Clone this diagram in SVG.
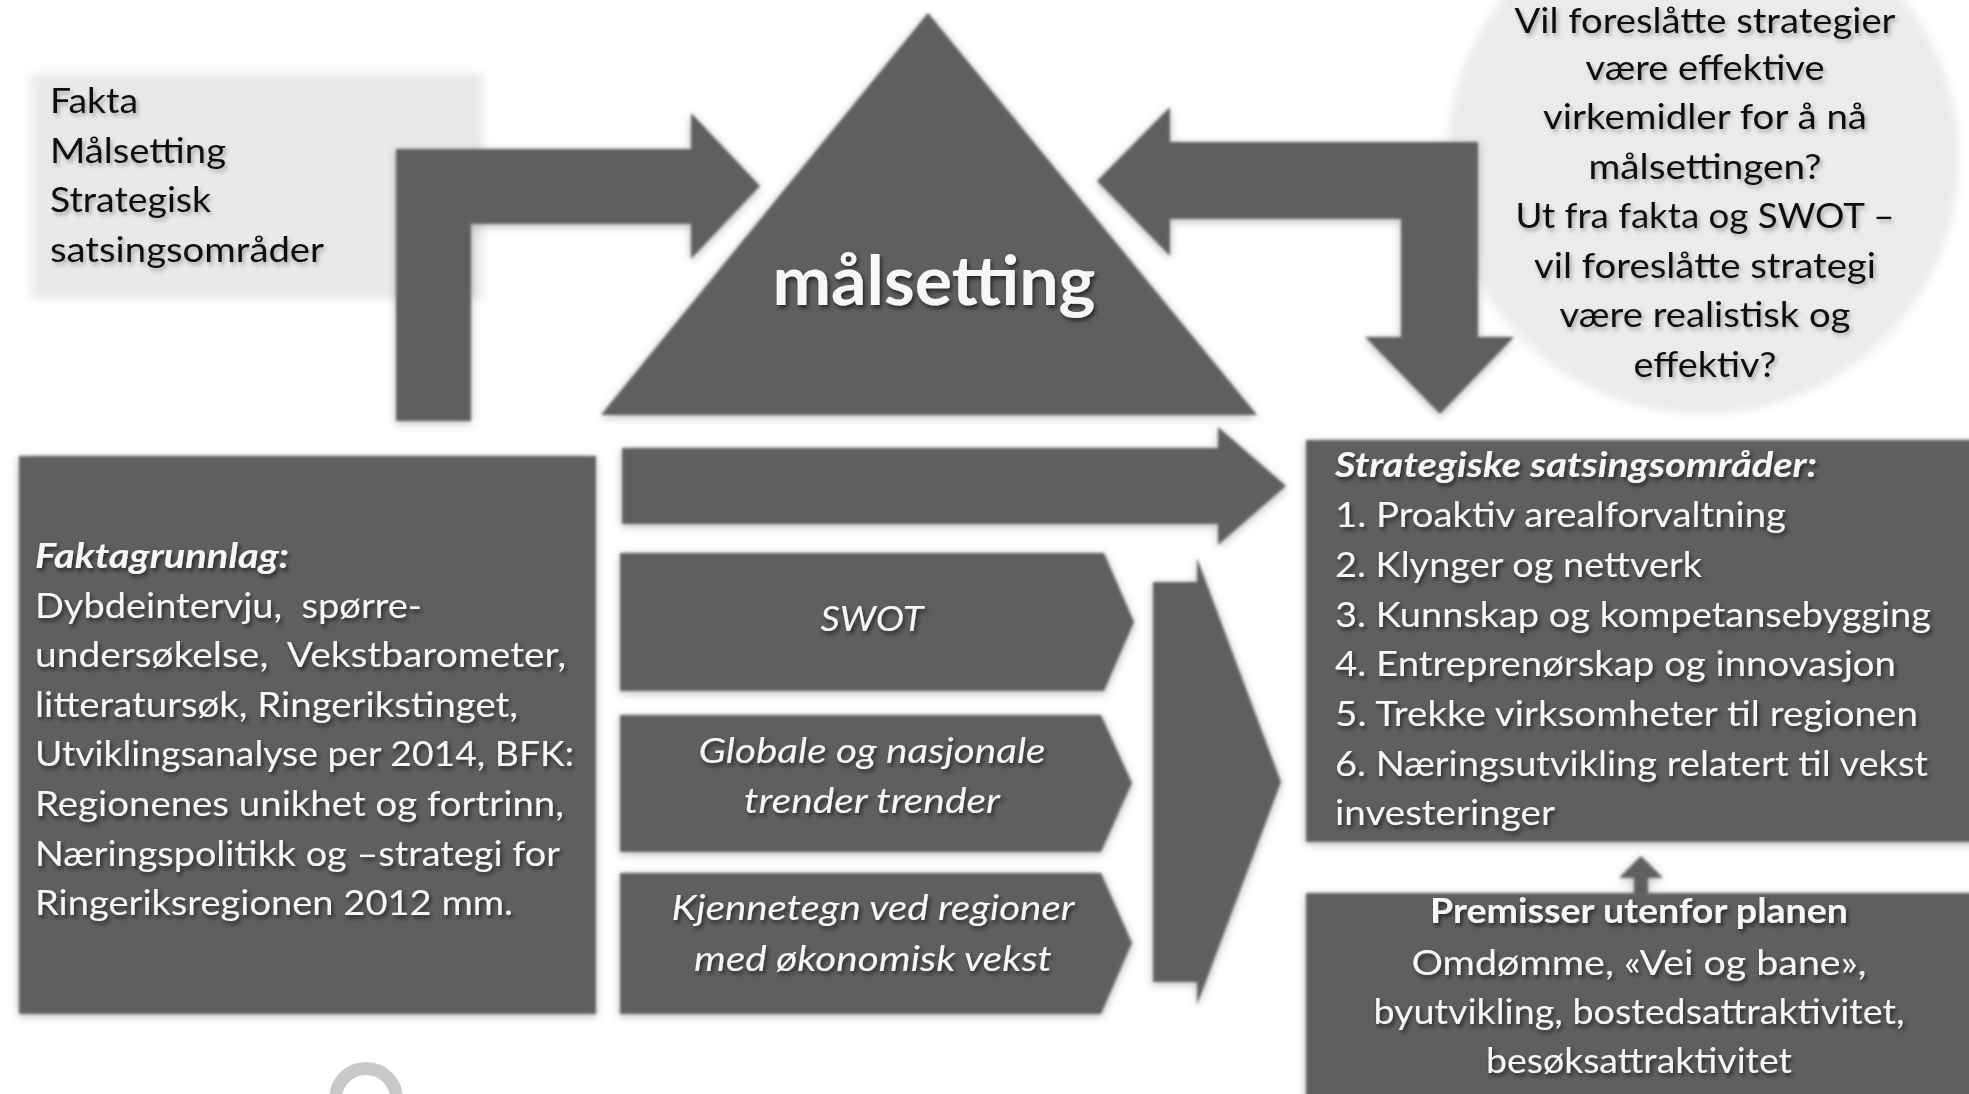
<svg xmlns="http://www.w3.org/2000/svg" width="1969" height="1094" viewBox="0 0 1969 1094">
<style>
  .dk { fill: #5e5e5e; }
  .t { font-family: Lato, "Liberation Sans", sans-serif; font-size: 34px; }
  .big { font-size: 68px; }
  .lt { fill: #f7f7f7; }
  .bk { fill: #111111; }
  .it { font-style: italic; }
  .bd { font-weight: bold; }
  .mid { text-anchor: middle; }
  .pre { white-space: pre; }
</style>
<defs>
  <filter id="shape" x="-10%" y="-10%" width="120%" height="120%">
    <feGaussianBlur in="SourceAlpha" stdDeviation="5" result="b"/>
    <feOffset in="b" dx="0" dy="2" result="o"/>
    <feFlood flood-color="#000" flood-opacity="0.28"/>
    <feComposite in2="o" operator="in" result="sh"/>
    <feGaussianBlur in="SourceGraphic" stdDeviation="1.8" result="s"/>
    <feMerge><feMergeNode in="sh"/><feMergeNode in="s"/></feMerge>
  </filter>
  <filter id="softlight" x="-10%" y="-10%" width="120%" height="120%">
    <feGaussianBlur stdDeviation="5"/>
  </filter>
  <filter id="tsd" x="-5%" y="-20%" width="110%" height="150%">
    <feDropShadow dx="2" dy="3" stdDeviation="2.2" flood-color="#000" flood-opacity="0.6"/>
  </filter>
  <filter id="tsl" x="-5%" y="-20%" width="110%" height="150%">
    <feDropShadow dx="2" dy="3" stdDeviation="2.2" flood-color="#000" flood-opacity="0.3"/>
  </filter>
</defs>
<rect width="1969" height="1094" fill="#ffffff"/>

<g id="fakta-box">
  <rect x="31" y="73" width="452" height="226" fill="#e9e9e9" filter="url(#softlight)"/>
  <g class="t bk" filter="url(#tsl)">
    <text x="50" y="113" textLength="88" lengthAdjust="spacingAndGlyphs">Fakta</text>
    <text x="50" y="163" textLength="176" lengthAdjust="spacingAndGlyphs">Målsetting</text>
    <text x="50" y="212" textLength="161" lengthAdjust="spacingAndGlyphs">Strategisk</text>
    <text x="50" y="262" textLength="274" lengthAdjust="spacingAndGlyphs">satsingsområder</text>
  </g>
</g>

<g id="question-circle">
  <circle cx="1703" cy="158" r="256" fill="#ebebeb" filter="url(#softlight)"/>
  <g class="t bk mid" filter="url(#tsl)">
    <text x="1705" y="33" textLength="381" lengthAdjust="spacingAndGlyphs">Vil foreslåtte strategier</text>
    <text x="1705" y="80" textLength="239" lengthAdjust="spacingAndGlyphs">være effektive</text>
    <text x="1705" y="129" textLength="324" lengthAdjust="spacingAndGlyphs">virkemidler for å nå</text>
    <text x="1705" y="179" textLength="233" lengthAdjust="spacingAndGlyphs">målsettingen?</text>
    <text x="1705" y="228" textLength="379" lengthAdjust="spacingAndGlyphs">Ut fra fakta og SWOT –</text>
    <text x="1705" y="278" textLength="342" lengthAdjust="spacingAndGlyphs">vil foreslåtte strategi</text>
    <text x="1705" y="327" textLength="291" lengthAdjust="spacingAndGlyphs">være realistisk og</text>
    <text x="1705" y="377" textLength="143" lengthAdjust="spacingAndGlyphs">effektiv?</text>
  </g>
</g>

<g id="connectors" class="dk" filter="url(#shape)">
  <path id="arrow-left-bent" d="M396,421 L396,149 L691,149 L691,113 L760,186 L691,259 L691,224 L471,224 L471,421 Z"/>
  <path id="arrow-right-bent" d="M1097,181 L1170,107 L1170,142 L1478,142 L1478,337 L1514,337 L1440,414 L1365,337 L1401,337 L1401,219 L1170,219 L1170,256 Z"/>
  <path id="arrow-main" d="M622,448 L1218,448 L1218,427 L1286,486 L1218,545 L1218,524 L622,524 Z"/>
  <path id="arrow-tall" d="M1153,582 L1197,582 L1197,558 L1281,782 L1197,1005 L1197,982 L1153,982 Z"/>
  <path id="arrow-up-small" d="M1634,895 L1634,878 L1619,878 L1641,856 L1663,878 L1648,878 L1648,895 Z"/>
</g>

<g id="malsetting">
  <polygon class="dk" points="928,13 1257,415 601,415" filter="url(#shape)"/>
  <text class="t big bd mid lt" x="934" y="305" textLength="323" lengthAdjust="spacingAndGlyphs" filter="url(#tsd)">målsetting</text>
</g>

<g id="faktagrunnlag">
  <rect class="dk" x="19" y="456" width="577" height="558" filter="url(#shape)"/>
  <g class="t lt" filter="url(#tsd)">
    <text class="bd it" x="35" y="568" textLength="254" lengthAdjust="spacingAndGlyphs">Faktagrunnlag:</text>
    <text class="pre" x="35" y="618" textLength="387" lengthAdjust="spacingAndGlyphs">Dybdeintervju,  spørre-</text>
    <text class="pre" x="35" y="667" textLength="531" lengthAdjust="spacingAndGlyphs">undersøkelse,  Vekstbarometer,</text>
    <text x="35" y="717" textLength="483" lengthAdjust="spacingAndGlyphs">litteratursøk, Ringerikstinget,</text>
    <text x="35" y="766" textLength="539" lengthAdjust="spacingAndGlyphs">Utviklingsanalyse per 2014, BFK:</text>
    <text x="35" y="816" textLength="529" lengthAdjust="spacingAndGlyphs">Regionenes unikhet og fortrinn,</text>
    <text x="35" y="866" textLength="525" lengthAdjust="spacingAndGlyphs">Næringspolitikk og –strategi for</text>
    <text x="35" y="915" textLength="478" lengthAdjust="spacingAndGlyphs">Ringeriksregionen 2012 mm.</text>
  </g>
</g>

<g id="swot">
  <path class="dk" d="M620,553 L1104,553 L1134,622 L1104,691 L620,691 Z" filter="url(#shape)"/>
  <text class="t it mid lt" x="872" y="631" textLength="103" lengthAdjust="spacingAndGlyphs" filter="url(#tsd)">SWOT</text>
</g>

<g id="globale">
  <path class="dk" d="M620,715 L1101,715 L1132,783 L1101,852 L620,852 Z" filter="url(#shape)"/>
  <g class="t it mid lt" filter="url(#tsd)">
    <text x="872" y="763" textLength="347" lengthAdjust="spacingAndGlyphs">Globale og nasjonale</text>
    <text x="872" y="813" textLength="256" lengthAdjust="spacingAndGlyphs">trender trender</text>
  </g>
</g>

<g id="kjennetegn">
  <path class="dk" d="M620,873 L1101,873 L1132,943 L1101,1014 L620,1014 Z" filter="url(#shape)"/>
  <g class="t it mid lt" filter="url(#tsd)">
    <text x="873" y="920" textLength="403" lengthAdjust="spacingAndGlyphs">Kjennetegn ved regioner</text>
    <text x="873" y="971" textLength="358" lengthAdjust="spacingAndGlyphs">med økonomisk vekst</text>
  </g>
</g>

<g id="strategiske">
  <rect class="dk" x="1306" y="440" width="680" height="402" filter="url(#shape)"/>
  <g class="t lt" filter="url(#tsd)">
    <text class="bd it" x="1335" y="477" textLength="482" lengthAdjust="spacingAndGlyphs">Strategiske satsingsområder:</text>
    <text x="1335" y="527" textLength="451" lengthAdjust="spacingAndGlyphs">1. Proaktiv arealforvaltning</text>
    <text x="1335" y="577" textLength="367" lengthAdjust="spacingAndGlyphs">2. Klynger og nettverk</text>
    <text x="1335" y="627" textLength="596" lengthAdjust="spacingAndGlyphs">3. Kunnskap og kompetansebygging</text>
    <text x="1335" y="676" textLength="561" lengthAdjust="spacingAndGlyphs">4. Entreprenørskap og innovasjon</text>
    <text x="1335" y="726" textLength="583" lengthAdjust="spacingAndGlyphs">5. Trekke virksomheter til regionen</text>
    <text x="1335" y="776" textLength="593" lengthAdjust="spacingAndGlyphs">6. Næringsutvikling relatert til vekst</text>
    <text x="1335" y="825" textLength="220" lengthAdjust="spacingAndGlyphs">investeringer</text>
  </g>
</g>

<g id="premisser">
  <rect class="dk" x="1306" y="893" width="680" height="220" filter="url(#shape)"/>
  <g class="t mid lt" filter="url(#tsd)">
    <text class="bd" x="1639" y="923" textLength="418" lengthAdjust="spacingAndGlyphs">Premisser utenfor planen</text>
    <text x="1639" y="975" textLength="455" lengthAdjust="spacingAndGlyphs">Omdømme, «Vei og bane»,</text>
    <text x="1639" y="1024" textLength="531" lengthAdjust="spacingAndGlyphs">byutvikling, bostedsattraktivitet,</text>
    <text x="1639" y="1073" textLength="306" lengthAdjust="spacingAndGlyphs">besøksattraktivitet</text>
  </g>
</g>

<g id="ring">
  <circle cx="366" cy="1099" r="30.5" fill="none" stroke="#c9c9c9" stroke-width="13"/>
</g>
</svg>
